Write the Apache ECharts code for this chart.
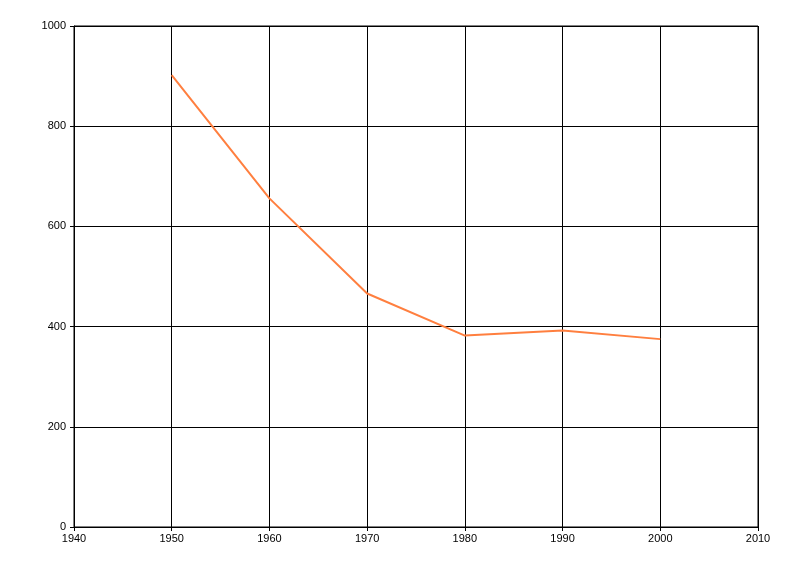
<!DOCTYPE html>
<html>
<head>
<meta charset="utf-8">
<script src="https://cdn.jsdelivr.net/npm/echarts@6/dist/echarts.min.js"></script>
<style>html,body{margin:0;padding:0;background:#fff}#c{width:800px;height:576px}</style>
</head>
<body>
<div id="c"></div>
<script>
var years = [1950, 1960, 1970, 1980, 1990, 2000];
var values = [902, 656, 466, 382, 392, 375];
var chart = echarts.init(document.getElementById('c'), null, {renderer: 'canvas'});
function plain(v) { return String(v); }
var labelBase = {color: '#000', fontSize: 11, fontFamily: 'Liberation Sans, Arial, sans-serif', formatter: plain};
var axisCommon = {
  axisLine: {show: true, lineStyle: {color: '#000', width: 1}},
  axisTick: {show: true, length: 4, lineStyle: {color: '#000'}},
  splitLine: {show: true, lineStyle: {color: '#000', width: 1}}
};
chart.setOption({
  animation: false,
  grid: {left: 74, right: 42, top: 26, bottom: 49, show: true, borderColor: '#000', borderWidth: 1},
  xAxis: Object.assign({}, axisCommon, {
    type: 'value', min: 1940, max: 2010, interval: 10,
    axisLabel: Object.assign({}, labelBase, {margin: 6})
  }),
  yAxis: Object.assign({}, axisCommon, {
    type: 'value', min: 0, max: 1000, interval: 200,
    axisLabel: Object.assign({}, labelBase, {margin: 8})
  }),
  series: [{
    type: 'line',
    data: years.map(function (y, i) { return [y, values[i]]; }),
    symbol: 'none',
    lineStyle: {color: '#FF7F3F', width: 2}
  }]
});
</script>
</body>
</html>
